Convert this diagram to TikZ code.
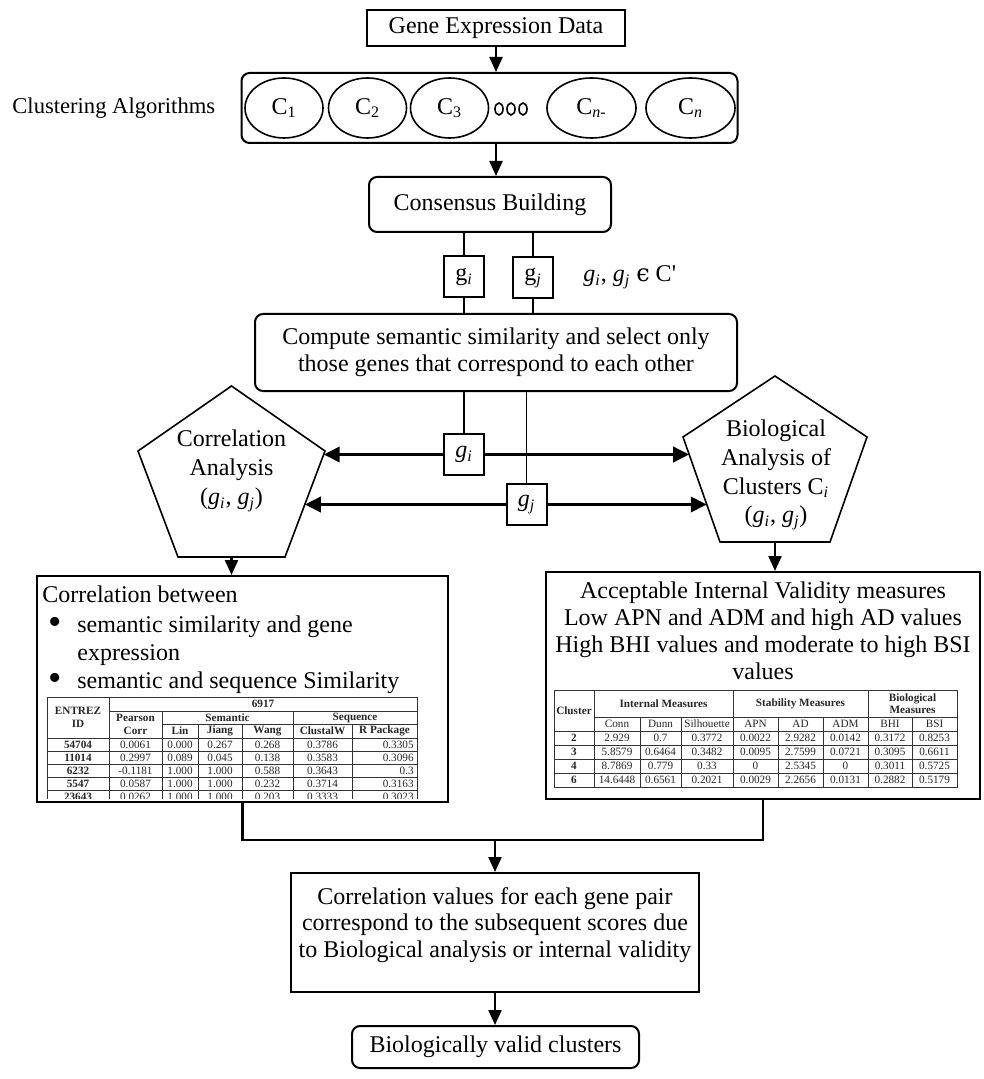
\documentclass[tikz,border=0pt]{standalone}
\usepackage{fontspec}
\setmainfont{Liberation Serif}
\newfontfamily\symfnt{DejaVu Serif}
\usetikzlibrary{arrows.meta,shapes.geometric}

\newcommand{\gsubi}{\textit{g}\textsubscript{\textit{i}}}
\newcommand{\gsubj}{\textit{g}\textsubscript{\textit{j}}}
\newcommand{\bigbullet}{{\fontsize{19}{19}\selectfont\textbullet}}

\tikzset{
  plainbox/.style={draw, line width=1pt, inner sep=0pt, align=center},
  roundbox/.style={plainbox, rounded corners=4pt},
  algo/.style={draw, ellipse, line width=0.8pt, inner sep=0pt, minimum height=30pt},
  genebox/.style={draw, line width=1pt, inner sep=0pt, minimum width=20pt, minimum height=20.5pt},
  link/.style={line width=0.6pt},
  arr/.style={line width=1.1pt, -{Triangle[length=7.5pt,width=6.5pt]}},
  harr/.style={line width=1.8pt, -{Triangle[length=8pt,width=7.5pt]}},
  penta/.style={line width=0.8pt},
  tabrule/.style={line width=0.4pt, black!80},
  tab/.style={inner sep=0pt, text=black!85, font=\fontsize{5.6}{6.5}\selectfont},
  tabb/.style={tab, font=\fontsize{5.6}{6.5}\selectfont\bfseries},
}

\begin{document}
\begin{tikzpicture}[x=0.5pt, y=-0.5pt, font=\fontsize{12}{14.5}\selectfont]
\useasboundingbox (0,0) rectangle (983,1079);

% input and clustering
\node[plainbox, minimum width=129pt, minimum height=18pt] (gene) at (496,28) {Gene Expression Data};
\node[roundbox, minimum width=248pt, minimum height=35pt] (algos) at (489.5,108) {};
\node[anchor=west, inner sep=0pt, font=\fontsize{11.3}{13}\selectfont] (algolbl) at (12,108) {Clustering Algorithms};
\node[algo, minimum width=39pt] (c1) at (284,108) {C\textsubscript{1}};
\node[algo, minimum width=39pt] (c2) at (367.5,108) {C\textsubscript{2}};
\node[algo, minimum width=39pt] (c3) at (449.5,108) {C\textsubscript{3}};
\node[algo, minimum width=44.5pt] (cnm) at (591.5,108) {C\textsubscript{\textit{n}-}};
\node[algo, minimum width=44.5pt] (cn) at (690.5,108) {C\textsubscript{\textit{n}}};
\foreach \x in {499,511,523}
  \draw[line width=0.8pt] (\x,109) ellipse [x radius=2pt, y radius=3pt];
\node[roundbox, minimum width=121pt, minimum height=27.5pt] (cons) at (490,204.5) {Consensus Building};

\draw[arr] (gene.south) -- (gene.south |- algos.north);
\draw[arr] (algos.south -| gene.south) -- (cons.north -| gene.south);

% gene pair from the consensus
\node[genebox] (gi1) at (464,277) {g\textsubscript{\textit{i}}};
\node[genebox] (gj1) at (533,278) {g\textsubscript{\textit{j}}};
\node[anchor=west, inner sep=0pt] (memb) at (583,277) {\gsubi, \gsubj\ {\symfnt ϵ} C\textquotesingle};
\node[roundbox, minimum width=241pt, minimum height=38.5pt, font=\fontsize{12}{13.5}\selectfont] (comp) at (496,352.5)
  {Compute semantic similarity and select only\\those genes that correspond to each other};
\draw[link] (cons.south -| gi1) -- (gi1.north);
\draw[link] (gi1.south) -- (comp.north -| gi1);
\draw[link] (cons.south -| gj1) -- (gj1.north);
\draw[link] (gj1.south) -- (comp.north -| gj1);

\node[genebox] (gi2) at (464,454.5) {\gsubi};
\node[genebox] (gj2) at (526.5,504.5) {\gsubj};
\draw[link] (comp.south -| gi2) -- (gi2.north);
\draw[link] (comp.south -| gj2) -- (gj2.north);

% the two analyses
\draw[penta] (231.5,386) -- (325,451) -- (285,557) -- (178,557) -- (138,451) -- cycle;
\coordinate (corrbot) at (231.5,557);
\node[align=center] (corr) at (231.5,471) {Correlation\\Analysis\\(\gsubi, \gsubj)};
\draw[penta] (775,376) -- (867,437) -- (830,542) -- (720,542) -- (683,437) -- cycle;
\coordinate (biobot) at (775,542);
\node[align=center, font=\fontsize{12}{14.3}\selectfont] (bio) at (776,475)
  {Biological\\Analysis of\\Clusters C\textsubscript{\textit{i}}\\(\gsubi, \gsubj)};

\coordinate (corrin1) at (323.7,454.5);
\coordinate (corrin2) at (304.8,504.5);
\coordinate (bioin1) at (689.2,454.5);
\coordinate (bioin2) at (706.8,504.5);
\draw[harr] (gi2.west) -- (corrin1);
\draw[harr] (gi2.east) -- (bioin1);
\draw[harr] (gj2.west) -- (corrin2);
\draw[harr] (gj2.east) -- (bioin2);

% result boxes
\node[plainbox, minimum width=205.5pt, minimum height=113pt] (corrbox) at (242.5,689) {};
\node[plainbox, minimum width=217pt, minimum height=113.5pt] (valbox) at (763,685.5) {};
\draw[arr] (corrbot) -- (corrbot |- corrbox.north);
\draw[arr] (biobot) -- (biobot |- valbox.north);

\node[anchor=base west, inner sep=0pt] (cb1) at (42,602) {Correlation between};
\node[anchor=base, inner sep=0pt] (cbul1) at (55,634) {\bigbullet};
\node[anchor=base west, inner sep=0pt] (cb2) at (77,632) {semantic similarity and gene};
\node[anchor=base west, inner sep=0pt] (cb3) at (77,660) {expression};
\node[anchor=base, inner sep=0pt] (cbul2) at (55,690) {\bigbullet};
\node[anchor=base west, inner sep=0pt] (cb4) at (77,688) {semantic and sequence Similarity};

\node[anchor=base, inner sep=0pt] (vb1) at (763,598) {Acceptable Internal Validity measures};
\node[anchor=base, inner sep=0pt] (vb2) at (763,625) {Low APN and ADM and high AD values};
\node[anchor=base, inner sep=0pt] (vb3) at (763,652) {High BHI values and moderate to high BSI};
\node[anchor=base, inner sep=0pt] (vb4) at (763,679) {values};

% table of correlations (cut off by the box)
\begin{scope}
  \clip (40,690) rectangle (425,798);
  \draw[tabrule] (47,697) rectangle (417,815);
  \draw[tabrule] (109,711) -- (417,711) (162,724) -- (417,724);
  \foreach \y in {738,751,764,777,790}
    \draw[tabrule] (47,\y) -- (417,\y);
  \draw[tabrule] (109,697) -- (109,815) (162,711) -- (162,815) (198,724) -- (198,815)
    (242,724) -- (242,815) (293,711) -- (293,815) (352,724) -- (352,815);
  \node[tabb] (lhid1) at (78,711) {ENTREZ};
  \node[tabb] (lhid2) at (78,724) {ID};
  \node[tabb] (lhset) at (263,704) {6917};
  \node[tabb] (lhpc1) at (135.5,717.5) {Pearson};
  \node[tabb] (lhpc2) at (135.5,731) {Corr};
  \node[tabb] (lhsem) at (227.5,717.5) {Semantic};
  \node[tabb] (lhseq) at (355,717.5) {Sequence};
  \node[tabb] (lhlin) at (180,731) {Lin};
  \node[tabb] (lhjia) at (220,731) {Jiang};
  \node[tabb] (lhwan) at (267.5,731) {Wang};
  \node[tabb] (lhclu) at (322.5,731) {ClustalW};
  \node[tabb] (lhrpk) at (384.5,731) {R Package};
  \foreach \y/\rid/\tA/\tB/\tC/\tD/\tE/\tF in {
      744.5/54704/0.0061/0.000/0.267/0.268/0.3786/0.3305,
      757.5/11014/0.2997/0.089/0.045/0.138/0.3583/0.3096,
      770.5/6232/-0.1181/1.000/1.000/0.588/0.3643/0.3,
      783.5/5547/0.0587/1.000/1.000/0.232/0.3714/0.3163,
      796.5/23643/0.0262/1.000/1.000/0.203/0.3333/0.3023}{
    \node[tabb] (lt\rid a) at (78,\y) {\rid};
    \node[tab] (lt\rid b) at (135.5,\y) {\tA};
    \node[tab] (lt\rid c) at (180,\y) {\tB};
    \node[tab] (lt\rid d) at (220,\y) {\tC};
    \node[tab] (lt\rid e) at (267.5,\y) {\tD};
    \node[tab] (lt\rid f) at (322.5,\y) {\tE};
    \node[tab, anchor=east] (lt\rid g) at (414,\y) {\tF};
  }
\end{scope}

% table of validity measures
\draw[tabrule] (554,690) rectangle (957,787);
\draw[tabrule] (594,717) -- (957,717);
\foreach \y in {731,745,759,773}
  \draw[tabrule] (554,\y) -- (957,\y);
\draw[tabrule] (594,690) -- (594,787) (733,690) -- (733,787) (868,690) -- (868,787);
\foreach \x in {640,681,778,823,912}
  \draw[tabrule] (\x,717) -- (\x,787);
\node[tabb] (rhclu) at (574,710.5) {Cluster};
\node[tabb] (rhint) at (663.5,704) {Internal Measures};
\node[tabb] (rhsta) at (800.5,704) {Stability Measures};
\node[tabb] (rhbio1) at (912.5,698.5) {Biological};
\node[tabb] (rhbio2) at (912.5,709.5) {Measures};
\foreach \x/\t in {617/Conn, 660.5/Dunn, 707/Silhouette, 755.5/APN, 800.5/AD, 845.5/ADM, 890/BHI, 934.5/BSI}
  \node[tab] (rh\t) at (\x,724) {\t};
\foreach \y/\rc/\tA/\tB/\tC/\tD/\tE/\tF/\tG/\tH in {
    738/2/2.929/0.7/0.3772/0.0022/2.9282/0.0142/0.3172/0.8253,
    752/3/5.8579/0.6464/0.3482/0.0095/2.7599/0.0721/0.3095/0.6611,
    766/4/8.7869/0.779/0.33/0/2.5345/0/0.3011/0.5725,
    780/6/14.6448/0.6561/0.2021/0.0029/2.2656/0.0131/0.2882/0.5179}{
  \node[tabb] (rt\rc a) at (574,\y) {\rc};
  \node[tab] (rt\rc b) at (617,\y) {\tA};
  \node[tab] (rt\rc c) at (660.5,\y) {\tB};
  \node[tab] (rt\rc d) at (707,\y) {\tC};
  \node[tab] (rt\rc e) at (755.5,\y) {\tD};
  \node[tab] (rt\rc f) at (800.5,\y) {\tE};
  \node[tab] (rt\rc g) at (845.5,\y) {\tF};
  \node[tab] (rt\rc h) at (890,\y) {\tG};
  \node[tab] (rt\rc i) at (934.5,\y) {\tH};
}

% merging and result
\coordinate (merge) at (495,840);
\draw[line width=1.2pt] (corrbox.south) |- (merge) -| (valbox.south);
\node[plainbox, minimum width=204pt, minimum height=59.5pt] (summ) at (495,932.5) {};
\node[align=center, font=\fontsize{12}{13.3}\selectfont] (summtxt) at (495,925)
  {Correlation values for each gene pair\\correspond to the subsequent scores due\\to Biological analysis or internal validity};
\draw[arr] (merge) -- (summ.north);
\node[roundbox, minimum width=143.5pt, minimum height=21pt] (final) at (495.5,1047) {Biologically valid clusters};
\draw[arr] (summ.south) -- (summ.south |- final.north);
\end{tikzpicture}
\end{document}
